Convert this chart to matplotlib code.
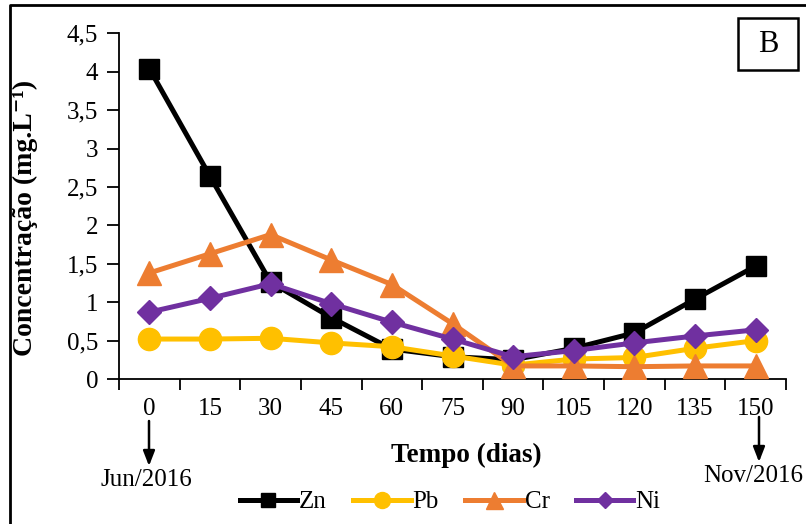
import matplotlib
matplotlib.use("Agg")
import matplotlib.pyplot as plt
from matplotlib.lines import Line2D
from matplotlib.patches import Rectangle
from matplotlib.ticker import FuncFormatter, FixedLocator, NullFormatter
import numpy as np

plt.rcParams['font.family'] = ['Liberation Serif', 'DejaVu Serif']

days = ["0", "15", "30", "45", "60", "75", "90", "105", "120", "135", "150"]
zn = [4.04, 2.64, 1.26, 0.80, 0.39, 0.29, 0.25, 0.40, 0.60, 1.04, 1.47]
pb = [0.52, 0.52, 0.53, 0.47, 0.42, 0.30, 0.18, 0.26, 0.28, 0.40, 0.50]
cr = [1.38, 1.63, 1.88, 1.55, 1.23, 0.72, 0.17, 0.17, 0.16, 0.17, 0.17]
ni = [0.87, 1.05, 1.24, 0.98, 0.74, 0.52, 0.29, 0.37, 0.47, 0.56, 0.64]
series_names = ["Zn", "Pb", "Cr", "Ni"]
yticks = [0, 0.5, 1, 1.5, 2, 2.5, 3, 3.5, 4, 4.5]

W, H = 806, 524
fig = plt.figure(figsize=(W / 100, H / 100), dpi=100)
ax = fig.add_axes([119 / W, 1 - 379 / H, (786 - 119) / W, (379 - 33.3) / H])

x = np.arange(len(days))
ax.plot(x, zn, color='black', lw=3.6, marker='s', ms=14, label=series_names[0], zorder=3)
ax.plot(x, pb, color='#FFC000', lw=3.6, marker='o', ms=16, label=series_names[1], zorder=4)
ax.plot(x, cr, color='#ED7D31', lw=3.6, marker='^', ms=17, label=series_names[2], zorder=5)
ax.plot(x, ni, color='#7030A0', lw=3.6, marker='D', ms=12, label=series_names[3], zorder=6)

ax.set_xlim(-0.5, len(days) - 0.5)
ax.set_ylim(0, 4.5)
ax.set_yticks(yticks)
ax.yaxis.set_major_formatter(FuncFormatter(lambda v, p: ('%g' % v).replace('.', ',')))

ax.xaxis.set_major_locator(FixedLocator(np.arange(-0.5, len(days), 1.0)))
ax.xaxis.set_major_formatter(NullFormatter())
ax.xaxis.set_minor_locator(FixedLocator(x))
ax.set_xticklabels(days, minor=True)
ax.tick_params(axis='x', which='minor', length=0, pad=14, labelsize=18)
ax.tick_params(axis='x', which='major', length=8, width=1.3, direction='out')
ax.tick_params(axis='y', length=9, width=1.3, direction='out', labelsize=18, pad=6)

for s in ['top', 'right']:
    ax.spines[s].set_visible(False)
for s in ['left', 'bottom']:
    ax.spines[s].set_linewidth(1.3)

ax.set_ylabel('Concentração (mg.L\u207b\u00b9)', fontsize=20, fontweight='bold')
ax.yaxis.set_label_coords(-(119 - 38) / (786 - 119), (379 - 218) / (379 - 33.3))
fig.text(466 / W, 1 - 455 / H, 'Tempo (dias)', fontsize=19.5, fontweight='bold', ha='center', va='center')

# arrows and dates
for xc, y0, y1, ty, txt, tx in [(149, 421, 466, 480, 'Jun/2016', 146), (759, 417, 462, 476, 'Nov/2016', 753)]:
    plt.annotate('', xy=(xc / W, 1 - y1 / H), xytext=(xc / W, 1 - y0 / H), xycoords='figure fraction',
                 textcoords='figure fraction',
                 arrowprops=dict(arrowstyle='-|>,head_length=0.9,head_width=0.35', color='black', lw=1.8,
                                 shrinkA=0, shrinkB=0))
    fig.text(tx / W, 1 - ty / H, txt, fontsize=18, ha='center', va='center')

# B label box
fig.add_artist(Rectangle((738 / W, 1 - 70 / H), 60 / W, 52 / H, transform=fig.transFigure,
                         fc='white', ec='black', lw=1.8))
fig.text(768 / W, 1 - 44 / H, 'B', fontsize=22, ha='center', va='center')

# outer frame (left and top visible)
fig.add_artist(Line2D([10 / W, 10 / W, 1.01], [-0.01, 1 - 5 / H, 1 - 5 / H], color='black', lw=2,
                      transform=fig.transFigure))

leg = fig.legend(loc='center', bbox_to_anchor=(450 / W, 1 - 502 / H), ncol=4, frameon=False,
                 fontsize=18, handlelength=2.3, handletextpad=0.08, columnspacing=1.05, markerscale=0.72)

fig.savefig('out.png', dpi=100)
